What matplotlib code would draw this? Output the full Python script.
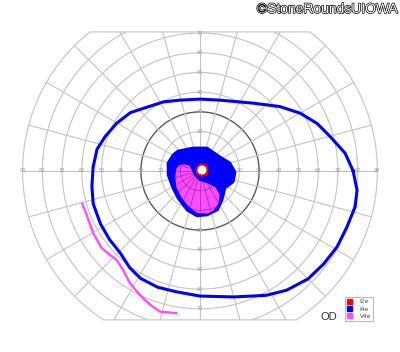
import numpy as np
import matplotlib.pyplot as plt
from matplotlib.patches import Polygon, Ellipse, Patch
import matplotlib.patheffects as pe

# Goldmann isopters, meridian (deg) and eccentricity (deg)
i4e_meridian = [0, 7, 15, 22, 30, 39, 52, 74, 90, 106, 118, 130, 140, 150, 160, 168, 178, 188,
                197, 208, 217, 226, 234, 241, 250, 259, 270, 285, 298, 306, 315, 323, 331, 339, 347, 353]
i4e_ecc = [77.7, 74.2, 68.2, 64.2, 58.7, 52.0, 43.7, 37.4, 36.5, 37.4, 39.7, 42.2, 46.1, 48.7, 51.2, 53.4, 54.3, 55.4,
           56.7, 57.2, 57.6, 58.1, 60.7, 62.3, 62.8, 62.5, 63.5, 66.2, 71.5, 74.8, 77.5, 78.5, 79.5, 79.8, 80.8, 80.3]

# central I4e island
i4e_c_meridian = [15, 35, 73, 107, 138, 149, 166, 187, 212, 231, 252, 266, 279, 294, 307, 326, 342, 358]
i4e_c_ecc = [15.7, 12.4, 12.2, 12.2, 15.1, 15.9, 16.7, 16.3, 16.2, 17.7, 20.9, 22.8, 22.6, 21.6, 18.5, 15.3, 17.7, 17.8]

# central V4e island
v4e_c_meridian = [159, 156, 209, 259, 299, 312, 308, 299, 288, 280, 266, 251, 235, 215, 194, 175, 165]
v4e_c_ecc = [8.2, 6.1, 4.1, 5.2, 7.5, 11.5, 15.5, 18.6, 20.9, 21.6, 20.9, 18.3, 16.0, 14.2, 12.6, 11.7, 10.6]

# peripheral V4e segment (open)
v4e_p_meridian = [195, 201, 210, 218, 223, 227, 232, 238, 244, 250, 254, 261]
v4e_p_ecc = [62.1, 61.7, 62.7, 63.4, 62.5, 61.9, 63.6, 67.1, 69.9, 72.6, 74.2, 73.2]

# I2e: small ring near fixation
i2e_center = (1.0, 0.5)
i2e_ecc = 2.8

legend_labels = ['I2e', 'I4e', 'V4e']
legend_colors = ['#ff0000', '#0000ff', '#ff4cff']


def pol2xy(mer, ecc):
    a = np.deg2rad(np.asarray(mer, dtype=float))
    e = np.asarray(ecc, dtype=float)
    return e * np.cos(a), e * np.sin(a)


fig = plt.figure(figsize=(4, 3.52), dpi=100)
ax = fig.add_axes([0, 0, 1, 1])
ax.set_xlim(-101.5, 101.5)
ax.set_ylim(-91.9, 86.8)
ax.axis('off')

# chart outline: 90 deg circle cut flat top and bottom
R, top, bot = 90.0, 70.6, -75.6
a1, a2 = np.arcsin(top / R), np.arcsin(bot / R)
t_right = np.linspace(a2, a1, 200)
t_left = np.linspace(np.pi - a1, np.pi - a2, 200)
t = np.concatenate([t_right, t_left])
outline = np.column_stack([R * np.cos(t), R * np.sin(t)])
clip = Polygon(outline, closed=True, facecolor='none', edgecolor='#c4c4c4', lw=0.8)
ax.add_patch(clip)

grid_col = '#c4c4c4'
th = np.linspace(0, 2 * np.pi, 400)
for r in range(10, 90, 10):
    col, lw = (grid_col, 0.8) if r != 30 else ('#5a5a5a', 1.0)
    ln, = ax.plot(r * np.cos(th), r * np.sin(th), color=col, lw=lw, zorder=1)
    ln.set_clip_path(clip)
for ang in range(0, 360, 15):
    a = np.deg2rad(ang)
    ln, = ax.plot([0, R * np.cos(a)], [0, R * np.sin(a)], color=grid_col, lw=0.8, zorder=1)
    ln.set_clip_path(clip)

# degree labels along the axes
for r in range(10, 100, 10):
    for s in (-1, 1):
        ax.text(s * r, 0, str(r), fontsize=3.6, color='#9a9a9a', ha='center', va='center', zorder=2)
for r in range(10, 80, 10):
    for s in (-1, 1):
        ax.text(0, s * r, str(r), fontsize=3.6, color='#9a9a9a', ha='center', va='center', zorder=2)

# central islands
x, y = pol2xy(i4e_c_meridian, i4e_c_ecc)
ax.add_patch(Polygon(np.column_stack([x, y]), closed=True, facecolor='#0000ff', edgecolor='#0000ff',
                     lw=2.0, joinstyle='round', zorder=3))
x, y = pol2xy(v4e_c_meridian, v4e_c_ecc)
pink = Polygon(np.column_stack([x, y]), closed=True, facecolor='#ff4cff', edgecolor='#ff4cff',
               lw=1.0, joinstyle='round', zorder=4)
ax.add_patch(pink)
# grid showing through the pink area
for r in (10, 20):
    ln, = ax.plot(r * np.cos(th), r * np.sin(th), color='#b02cb0', lw=0.6, zorder=5)
    ln.set_clip_path(pink)
for ang in range(0, 360, 15):
    a = np.deg2rad(ang)
    ln, = ax.plot([0, 30 * np.cos(a)], [0, 30 * np.sin(a)], color='#b02cb0', lw=0.6, zorder=5)
    ln.set_clip_path(pink)

ax.add_patch(Ellipse(i2e_center, 2 * i2e_ecc, 2 * i2e_ecc, facecolor='white', edgecolor='#ff0000',
                     lw=1.5, zorder=6))

# peripheral isopters
x, y = pol2xy(i4e_meridian, i4e_ecc)
ax.plot(np.append(x, x[0]), np.append(y, y[0]), color='#0000ff', lw=2.2,
        solid_joinstyle='round', zorder=7)
x, y = pol2xy(v4e_p_meridian, v4e_p_ecc)
ax.plot(x, y, color='#ff4cff', lw=1.7, solid_joinstyle='round', solid_capstyle='butt', zorder=7)

# legend and eye label
handles = [Patch(facecolor=c, edgecolor=c) for c in legend_colors]
leg = fig.legend(handles, legend_labels, loc='upper left', bbox_to_anchor=(345 / 400, 1 - 297 / 352),
                 fontsize=4.2, frameon=True, fancybox=False, edgecolor='#aaaaaa',
                 handlelength=0.9, handleheight=0.9, borderpad=0.35, labelspacing=0.3,
                 handletextpad=1.3, borderaxespad=0)
leg.get_frame().set_linewidth(0.8)
for txt in leg.get_texts():
    txt.set_color('#444444')

fig.text(328.5 / 400, 1 - 317 / 352, 'OD', fontsize=8, color='#333333', ha='center', va='center',
         family='Liberation Sans')

fig.text(398 / 400, 1 - 9 / 352, '\u00a9StoneRoundsUIOWA', fontsize=10, color='white',
         ha='right', va='center', family='Liberation Sans',
         path_effects=[pe.withStroke(linewidth=1.0, foreground='black')])

fig.savefig('out.png', dpi=100)
